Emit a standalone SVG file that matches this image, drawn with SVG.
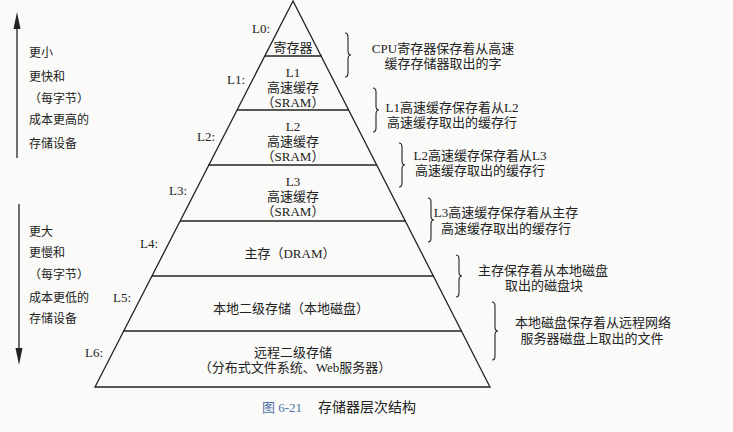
<svg xmlns="http://www.w3.org/2000/svg" width="733" height="432" viewBox="0 0 733 432">
<style>
text{font-family:"Liberation Serif","Noto Sans CJK SC",serif;fill:#222;}
.c{text-anchor:middle;font-size:13px;}
.lv{text-anchor:end;font-size:13px;}
.side{font-size:12px;}
.note{text-anchor:middle;font-size:13px;}
.ln{stroke:#222;stroke-width:1.3;fill:none;}
.br{stroke:#222;stroke-width:1.1;fill:none;}
</style>
<rect width="733" height="432" fill="#fafaf8"/>
<g id="pyramid">
<path class="ln" d="M293,1 L95,387 L490,387 Z"/>
</g>
<g id="connectors">
<line class="ln" x1="265" y1="56" x2="322" y2="56"/>
<line class="ln" x1="237" y1="110" x2="349" y2="110"/>
<line class="ln" x1="208" y1="165" x2="377" y2="165"/>
<line class="ln" x1="180" y1="221" x2="406" y2="221"/>
<line class="ln" x1="152" y1="276" x2="434" y2="276"/>
<line class="ln" x1="123" y1="331" x2="462" y2="331"/>
<line class="ln" x1="17" y1="158" x2="17" y2="26"/>
<polygon points="13.5,29 20.5,29 17,12" fill="#222"/>
<line class="ln" x1="19" y1="204" x2="19" y2="350"/>
<polygon points="15.5,348 22.5,348 19,365" fill="#222"/>
<path class="br" d="M345,33 Q348,33 348,37 L348,51 Q348,55 351,55 Q348,55 348,59 L348,73 Q348,77 345,77"/>
<path class="br" d="M373,88 Q376,88 376,92 L376,106 Q376,110 379,110 Q376,110 376,114 L376,128 Q376,132 373,132"/>
<path class="br" d="M399,143 Q402,143 402,147 L402,161 Q402,165 405,165 Q402,165 402,169 L402,183 Q402,187 399,187"/>
<path class="br" d="M428,198 Q431,198 431,202 L431,216 Q431,220 434,220 Q431,220 431,224 L431,238 Q431,242 428,242"/>
<path class="br" d="M456,255 Q459,255 459,259 L459,272 Q459,276 462,276 Q459,276 459,280 L459,293 Q459,297 456,297"/>
<path class="br" d="M492,302 Q495,302 495,306 L495,327 Q495,331 498,331 Q495,331 495,335 L495,356 Q495,360 492,360"/>
</g>
<g id="L0">
<text class="lv" x="270" y="33">L0:</text>
<text class="c" x="293" y="52">寄存器</text>
<text class="note" x="443" y="53">CPU寄存器保存着从高速</text>
<text class="note" x="443" y="68">缓存存储器取出的字</text>
</g>
<g id="L1">
<text class="lv" x="245" y="84">L1:</text>
<text class="c" x="293" y="77">L1</text>
<text class="c" x="293" y="92">高速缓存</text>
<text class="c" x="293" y="107">（SRAM）</text>
<text class="note" x="452" y="112">L1高速缓存保存着从L2</text>
<text class="note" x="452" y="127">高速缓存取出的缓存行</text>
</g>
<g id="L2">
<text class="lv" x="215" y="141">L2:</text>
<text class="c" x="293" y="131">L2</text>
<text class="c" x="293" y="146">高速缓存</text>
<text class="c" x="293" y="161">（SRAM）</text>
<text class="note" x="480" y="160">L2高速缓存保存着从L3</text>
<text class="note" x="480" y="175">高速缓存取出的缓存行</text>
</g>
<g id="L3">
<text class="lv" x="187" y="195">L3:</text>
<text class="c" x="293" y="186">L3</text>
<text class="c" x="293" y="201">高速缓存</text>
<text class="c" x="293" y="216">（SRAM）</text>
<text class="note" x="506" y="217">L3高速缓存保存着从主存</text>
<text class="note" x="506" y="233">高速缓存取出的缓存行</text>
</g>
<g id="L4">
<text class="lv" x="158" y="248">L4:</text>
<text class="c" x="290" y="258">主存（DRAM）</text>
<text class="note" x="543" y="275">主存保存着从本地磁盘</text>
<text class="note" x="544" y="290">取出的磁盘块</text>
</g>
<g id="L5">
<text class="lv" x="131" y="302">L5:</text>
<text class="c" x="291" y="313">本地二级存储（本地磁盘）</text>
<text class="note" x="593" y="327">本地磁盘保存着从远程网络</text>
<text class="note" x="592" y="343">服务器磁盘上取出的文件</text>
</g>
<g id="L6">
<text class="lv" x="103" y="357">L6:</text>
<text class="c" x="293" y="357">远程二级存储</text>
<text class="c" x="295" y="372">（分布式文件系统、Web服务器）</text>
</g>
<g id="upper-side">
<text class="side" x="29" y="57">更小</text>
<text class="side" x="29" y="81">更快和</text>
<text class="side" x="29" y="103">（每字节）</text>
<text class="side" x="29" y="124">成本更高的</text>
<text class="side" x="29" y="148">存储设备</text>
</g>
<g id="lower-side">
<text class="side" x="29" y="236">更大</text>
<text class="side" x="29" y="257">更慢和</text>
<text class="side" x="29" y="279">（每字节）</text>
<text class="side" x="29" y="302">成本更低的</text>
<text class="side" x="29" y="323">存储设备</text>
</g>
<g id="caption">
<text x="262" y="412" style="font-size:13px;fill:#4f73a8;">图 6-21</text>
<text x="318" y="412" style="font-size:14px;">存储器层次结构</text>
</g>
</svg>
